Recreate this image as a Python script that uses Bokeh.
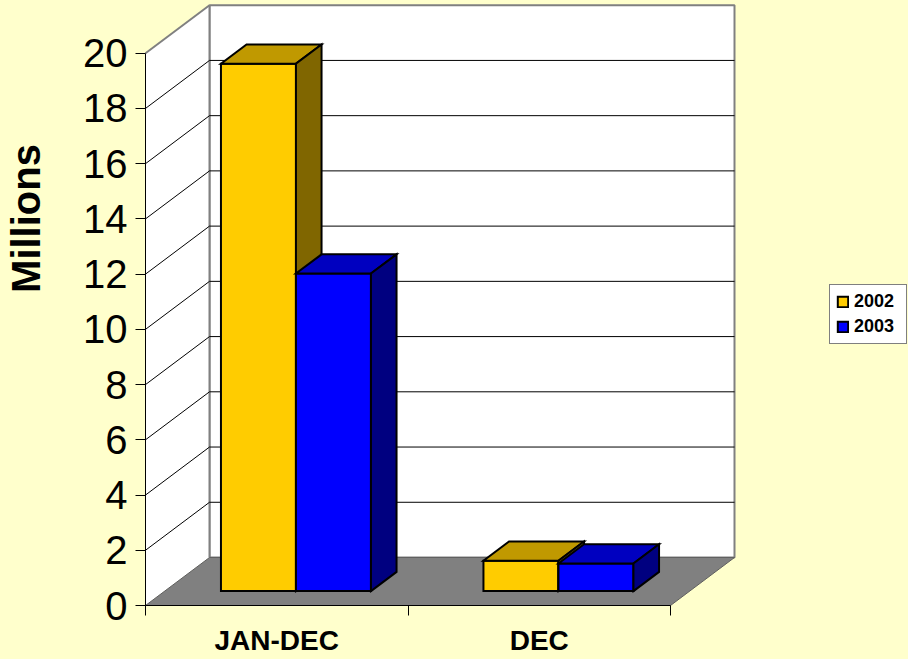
from bokeh.plotting import figure
from bokeh.models import Range1d, FixedTicker, Legend, LegendItem, ColumnDataSource, Label
from bokeh.embed import file_html
from bokeh.resources import INLINE

# ---------------- data ----------------
CATEGORIES = ["JAN-DEC", "DEC"]
SERIES = ["2002", "2003"]
VALUES_2002 = [19.1, 1.1]
VALUES_2003 = [11.5, 1.0]
Y_TICKS = [0, 2, 4, 6, 8, 10, 12, 14, 16, 18, 20]
Y_MAX = 20
Y_TITLE = "Millions"

# ---------------- styles / geometry ----------------
BG = "#FFFFCC"
FONT = "Liberation Sans"
SERIES_COLORS = {
    "2002": ("#FFCC00", "#C09900", "#806600"),  # front, top, side
    "2003": ("#0000FF", "#0000C0", "#000080"),
}
W, H = 908, 659
ORIGIN_X, ORIGIN_Y = 145, 605      # pixel position of the front (0, 0) corner
PX_PER_CAT = 262.5
PX_PER_UNIT = 27.615
DEPTH_DX = 64.0 / PX_PER_CAT
DEPTH_DY = 48.0 / PX_PER_UNIT
BAR_D0, BAR_D1 = 0.30, 0.70
GAP = 1.5
n_cat = len(CATEGORIES)

p = figure(width=W, height=H, output_backend="svg", toolbar_location=None,
           x_range=Range1d(-ORIGIN_X / PX_PER_CAT, (W - ORIGIN_X) / PX_PER_CAT),
           y_range=Range1d(-(H - ORIGIN_Y) / PX_PER_UNIT, ORIGIN_Y / PX_PER_UNIT),
           min_border=0, min_border_left=0, min_border_right=0,
           min_border_top=0, min_border_bottom=0)
p.background_fill_color = BG
p.border_fill_color = BG
p.outline_line_color = None
p.xgrid.visible = False
p.ygrid.visible = False

# ---------------- walls & floor ----------------
p.quad(left=[DEPTH_DX], right=[n_cat + DEPTH_DX], bottom=[DEPTH_DY], top=[Y_MAX + DEPTH_DY],
       fill_color="white", line_color="#808080", line_width=2)
p.patch([0, DEPTH_DX, DEPTH_DX, 0], [0, DEPTH_DY, Y_MAX + DEPTH_DY, Y_MAX],
        fill_color="white", line_color=None)
p.line([0, DEPTH_DX], [Y_MAX, Y_MAX + DEPTH_DY], line_color="#808080", line_width=2)
p.line([DEPTH_DX, DEPTH_DX], [DEPTH_DY, Y_MAX + DEPTH_DY], line_color="#808080", line_width=2)
p.patch([0, n_cat, n_cat + DEPTH_DX, DEPTH_DX], [0, 0, DEPTH_DY, DEPTH_DY],
        fill_color="#808080", line_color="#606060", line_width=1)

inner = [t for t in Y_TICKS if 0 < t < Y_MAX]
p.segment(x0=[DEPTH_DX] * len(inner), y0=[t + DEPTH_DY for t in inner],
          x1=[n_cat + DEPTH_DX] * len(inner), y1=[t + DEPTH_DY for t in inner],
          line_color="black", line_width=1)
p.segment(x0=[0] * len(inner), y0=inner,
          x1=[DEPTH_DX] * len(inner), y1=[t + DEPTH_DY for t in inner],
          line_color="black", line_width=1)

# ---------------- bars ----------------
w = 1.0 / (len(SERIES) + GAP)
values = {"2002": VALUES_2002, "2003": VALUES_2003}
xs, ys, fills = [], [], []
legend_index = {}
for c in range(n_cat):
    for i, s in enumerate(SERIES):
        v = values[s][c]
        a = c + GAP * w / 2 + i * w
        b = a + w
        ox0, oy0 = BAR_D0 * DEPTH_DX, BAR_D0 * DEPTH_DY
        ox1, oy1 = BAR_D1 * DEPTH_DX, BAR_D1 * DEPTH_DY
        front, top, side = SERIES_COLORS[s]
        if s not in legend_index:
            legend_index[s] = len(xs)
        xs.append([a + ox0, b + ox0, b + ox0, a + ox0])
        ys.append([oy0, oy0, v + oy0, v + oy0])
        fills.append(front)
        xs.append([a + ox0, b + ox0, b + ox1, a + ox1])
        ys.append([v + oy0, v + oy0, v + oy1, v + oy1])
        fills.append(top)
        xs.append([b + ox0, b + ox1, b + ox1, b + ox0])
        ys.append([oy0, oy1, v + oy1, v + oy0])
        fills.append(side)

src = ColumnDataSource(dict(xs=xs, ys=ys, fill=fills))
bars = p.patches("xs", "ys", source=src, fill_color="fill", line_color="black",
                 line_width=2, line_join="miter")

# ---------------- axes (drawn at the chart's front corner) ----------------
ya = p.yaxis[0]
ya.fixed_location = 0
ya.ticker = FixedTicker(ticks=Y_TICKS)
ya.bounds = (0, Y_MAX)
ya.major_tick_in = 0
ya.major_tick_out = 10
ya.minor_tick_out = 0
ya.minor_tick_in = 0
ya.major_label_standoff = 8
ya.major_label_text_font = FONT
ya.major_label_text_font_size = "40px"
ya.major_label_text_color = "black"
ya.axis_line_color = "black"
ya.major_tick_line_color = "black"

xa = p.xaxis[0]
xa.fixed_location = 0
xa.ticker = FixedTicker(ticks=[c + 0.5 for c in range(n_cat)],
                        minor_ticks=list(range(n_cat + 1)))
xa.bounds = (0, n_cat)
xa.major_tick_in = 0
xa.major_tick_out = 0
xa.minor_tick_in = 0
xa.minor_tick_out = 10
xa.minor_tick_line_color = "black"
xa.axis_line_color = "black"
xa.major_label_overrides = {c + 0.5: name for c, name in enumerate(CATEGORIES)}
xa.major_label_text_font = FONT
xa.major_label_text_font_style = "bold"
xa.major_label_text_font_size = "28px"
xa.major_label_text_color = "black"
xa.major_label_standoff = 9

# y title
p.add_layout(Label(x=-(ORIGIN_X - 25) / PX_PER_CAT, y=(ORIGIN_Y - 218) / PX_PER_UNIT,
                   text=Y_TITLE, angle=90, angle_units="deg",
                   text_align="center", text_baseline="alphabetic",
                   text_font=FONT, text_font_style="bold", text_font_size="40px",
                   text_color="black"))

# ---------------- legend ----------------
legend = Legend(items=[LegendItem(label=s, renderers=[bars], index=legend_index[s]) for s in SERIES],
                location=(829, 315))
legend.border_line_color = "black"
legend.border_line_width = 1
legend.background_fill_color = "white"
legend.background_fill_alpha = 1.0
legend.label_text_font = FONT
legend.label_text_font_style = "bold"
legend.label_text_font_size = "18px"
legend.label_text_color = "black"
legend.glyph_width = 13
legend.glyph_height = 13
legend.label_standoff = 5
legend.label_width = 46
legend.label_height = 13
legend.padding = 6
legend.spacing = 4
legend.margin = 0
p.add_layout(legend)

html = file_html(p, INLINE)
html = html.replace("</head>", "<style>body{background:#FFFFCC;}</style></head>", 1)
open("out.html", "w").write(html)
